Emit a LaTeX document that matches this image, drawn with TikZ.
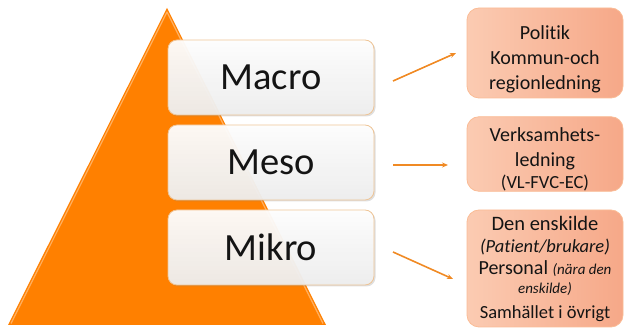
\documentclass[tikz,border=0pt]{standalone}
\usepackage{fontspec}
\setmainfont{Carlito}[Ligatures=NoCommon]
\usetikzlibrary{shadows,arrows.meta}
\definecolor{pyr}{RGB}{255,128,0}
\definecolor{pyredge}{RGB}{255,175,95}
\definecolor{arr}{RGB}{240,138,36}
\definecolor{txt}{RGB}{20,20,20}
\definecolor{lbord}{RGB}{238,196,150}
\definecolor{rbord}{RGB}{250,188,150}
\definecolor{rlight}{RGB}{251,203,178}
\definecolor{rdark}{RGB}{246,168,136}
\tikzset{
  lbox/.style={draw=lbord, line width=0.8pt, rounded corners=9pt,
    top color=white, bottom color={rgb,255:red,238;green,238;blue,238}, fill opacity=0.95,
    text opacity=1, minimum width=206pt, minimum height=75pt, inner sep=0pt,
    text=txt, font=\fontsize{38.5}{44}\selectfont,
    drop shadow={shadow xshift=1.5pt, shadow yshift=-1.5pt, opacity=0.25}},
  rbox/.style={draw=rbord, line width=0.8pt, rounded corners=12pt,
    left color=rlight, right color=rdark, minimum width=156pt, inner sep=0pt,
    text=txt, align=center, font=\fontsize{20}{25}\selectfont},
  arrline/.style={draw=arr, line width=1.6pt, -{Stealth[length=6pt,width=5pt]}}
}
\begin{document}
\begin{tikzpicture}[x=1pt,y=-1pt]
\useasboundingbox (0,0) rectangle (624,328);
% pyramid
\path[fill=pyr] (8,325) -- (167,8) -- (326,325) -- cycle;
\draw[pyredge, line width=1.2pt, line join=round] (11,323.5) -- (167,12) -- (323,323.5);
% left boxes
\node[lbox] (macro) at (271,77.5) {Macro};
\node[lbox] (meso) at (271,162.5) {Meso};
\node[lbox] (mikro) at (271,247.5) {Mikro};
% right boxes
\node[rbox, minimum height=90pt] (pol) at (545,53) {\rule{0pt}{26pt}Politik\\Kommun-och\\regionledning};
\node[rbox, minimum height=72pt] (ver) at (545,154) {\rule{0pt}{25pt}Verksamhets-\\ledning\\[-3pt]{\fontsize{18.5}{20}\selectfont (VL-FVC-EC)}};
\node[rbox, minimum height=117pt] (ens) at (545,268.5) {{\fontsize{20.5}{25}\selectfont Den enskilde}\\[-3pt]
  {\fontsize{18.5}{19}\selectfont\itshape (Patient/brukare)}\\[-3pt]
  Personal {\fontsize{15}{15}\selectfont\itshape (nära den}\\[-6pt]
  {\fontsize{15}{15}\selectfont\itshape enskilde)}\\[0pt]
  {\fontsize{18.5}{22}\selectfont Samhället i övrigt}};
% arrows
\coordinate (a1s) at (393,81);
\coordinate (a1e) at (456,53);
\coordinate (a2s) at (393,165);
\coordinate (a2e) at (448,165);
\coordinate (a3s) at (393,252);
\coordinate (a3e) at (453,279);
\draw[arrline] (a1s) -- (a1e);
\draw[arrline] (a2s) -- (a2e);
\draw[arrline] (a3s) -- (a3e);
\end{tikzpicture}
\end{document}
